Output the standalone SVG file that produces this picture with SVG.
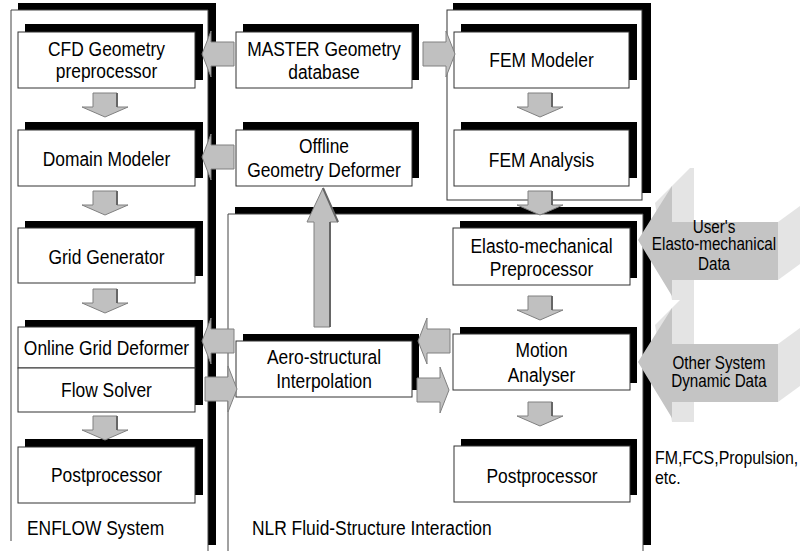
<svg xmlns="http://www.w3.org/2000/svg" xmlns:xlink="http://www.w3.org/1999/xlink" width="800" height="551" viewBox="0 0 800 551">
<style>
.sh{fill:#000}
.box{fill:#fff;stroke:#333;stroke-width:1}
.fr{fill:none;stroke:#444;stroke-width:1}
.bg{fill:#fff}
.t{font-family:"Liberation Sans",Arial,sans-serif;font-size:20px;fill:#000;text-anchor:middle}
.tl{font-family:"Liberation Sans",Arial,sans-serif;font-size:20px;fill:#000}
.td{font-family:"Liberation Sans",Arial,sans-serif;font-size:17.5px;fill:#000;text-anchor:middle}
.arr{fill:#c0c0c0;stroke:#808080;stroke-width:1}
.lt{fill:#e4e4e4}
.fc{fill:#c4c4c4}
</style>
<defs>
<g id="dn"><path class="arr" d="M-12,0 H12 V14 H23 L0,24 L-23,14 H-12 Z"/><path d="M12,0 V14" stroke="#666" stroke-width="2"/></g>
<g id="lf"><path class="arr" d="M0,0 L9,-23 V-12 H32 V12 H9 V23 Z"/></g>
<g id="rt"><path class="arr" d="M0,0 L-9,-23 V-12 H-32 V12 H-9 V23 Z"/></g>
<g id="big3d">
<polygon class="lt" points="655,203 690,168 694,168 694,300 672,300"/>
<polygon class="lt" points="778,222 800,206 800,264 778,280"/>
<polygon class="fc" points="638,240 672,186 672,222 778,222 778,280 672,280 672,296"/>
</g>
</defs>

<!-- containers -->
<g id="enflow">
<rect class="sh" x="18" y="3" width="198" height="542"/>
<rect class="bg" x="11" y="10" width="197" height="541"/>
<path class="fr" d="M11,541 V10 H208 V551"/>
<text class="tl" transform="translate(27,535) scale(0.87,1)">ENFLOW System</text>
</g>
<g id="fem">
<rect class="sh" x="453" y="3" width="198" height="190"/>
<rect class="box" x="447" y="10" width="195" height="190"/>
</g>
<g id="nlr">
<rect class="sh" x="235" y="207" width="416" height="338"/>
<rect class="bg" x="228" y="214" width="415" height="337"/>
<path class="fr" d="M228,551 V214 H643 V551"/>
<text class="tl" transform="translate(252,535) scale(0.87,1)">NLR Fluid-Structure Interaction</text>
</g>

<!-- ENFLOW nodes -->
<g id="n-cfd"><rect class="sh" x="25" y="24" width="178" height="56"/><rect class="box" x="18" y="32" width="177" height="56"/>
<text class="t" transform="translate(106.5,56) scale(0.87,1)">CFD Geometry</text><text class="t" transform="translate(106.5,78) scale(0.87,1)">preprocessor</text></g>
<g id="n-domain"><rect class="sh" x="25" y="122" width="178" height="56"/><rect class="box" x="18" y="130" width="177" height="56"/>
<text class="t" transform="translate(106.5,166) scale(0.87,1)">Domain Modeler</text></g>
<g id="n-grid"><rect class="sh" x="25" y="221" width="178" height="55"/><rect class="box" x="18" y="228" width="177" height="55"/>
<text class="t" transform="translate(106.5,264) scale(0.87,1)">Grid Generator</text></g>
<g id="n-online"><rect class="sh" x="25" y="320" width="178" height="85"/><rect class="box" x="18" y="327" width="177" height="41"/>
<text class="t" transform="translate(106.5,355) scale(0.87,1)">Online Grid Deformer</text></g>
<g id="n-flow"><rect class="box" x="18" y="368" width="177" height="44"/>
<text class="t" transform="translate(106.5,397) scale(0.87,1)">Flow Solver</text></g>
<g id="n-post1"><rect class="sh" x="25" y="439" width="178" height="56"/><rect class="box" x="18" y="447" width="177" height="56"/>
<text class="t" transform="translate(106.5,482) scale(0.87,1)">Postprocessor</text></g>

<!-- middle nodes -->
<g id="n-master"><rect class="sh" x="243" y="24" width="176" height="56"/><rect class="box" x="236" y="32" width="176" height="56"/>
<text class="t" transform="translate(324,56) scale(0.87,1)">MASTER Geometry</text><text class="t" transform="translate(324,79) scale(0.87,1)">database</text></g>
<g id="n-offline"><rect class="sh" x="243" y="122" width="176" height="56"/><rect class="box" x="236" y="130" width="176" height="56"/>
<text class="t" transform="translate(324,153) scale(0.87,1)">Offline</text><text class="t" transform="translate(324,177) scale(0.87,1)">Geometry Deformer</text></g>
<g id="n-aero"><rect class="sh" x="243" y="334" width="176" height="56"/><rect class="box" x="236" y="341" width="176" height="56"/>
<text class="t" transform="translate(324,364) scale(0.87,1)">Aero-structural</text><text class="t" transform="translate(324,388) scale(0.87,1)">Interpolation</text></g>

<!-- right nodes -->
<g id="n-femmod"><rect class="sh" x="461" y="24" width="176" height="56"/><rect class="box" x="454" y="32" width="175" height="56"/>
<text class="t" transform="translate(541.5,67) scale(0.87,1)">FEM Modeler</text></g>
<g id="n-femana"><rect class="sh" x="461" y="122" width="176" height="56"/><rect class="box" x="454" y="130" width="175" height="56"/>
<text class="t" transform="translate(541.5,167) scale(0.87,1)">FEM Analysis</text></g>
<g id="n-elasto"><rect class="sh" x="460" y="221" width="177" height="57"/><rect class="box" x="453" y="228" width="177" height="57"/>
<text class="t" transform="translate(541.5,253) scale(0.87,1)">Elasto-mechanical</text><text class="t" transform="translate(541.5,276) scale(0.87,1)">Preprocessor</text></g>
<g id="n-motion"><rect class="sh" x="460" y="327" width="177" height="56"/><rect class="box" x="453" y="334" width="177" height="56"/>
<text class="t" transform="translate(541.5,357) scale(0.87,1)">Motion</text><text class="t" transform="translate(541.5,382) scale(0.87,1)">Analyser</text></g>
<g id="n-post2"><rect class="sh" x="461" y="439" width="176" height="56"/><rect class="box" x="454" y="446" width="176" height="56"/>
<text class="t" transform="translate(542,483) scale(0.87,1)">Postprocessor</text></g>

<!-- connectors -->
<g id="connectors">
<use xlink:href="#dn" x="105" y="93"/>
<use xlink:href="#dn" x="105" y="191"/>
<use xlink:href="#dn" x="105" y="289"/>
<use xlink:href="#dn" x="105" y="416"/>
<use xlink:href="#dn" x="540" y="93"/>
<use xlink:href="#dn" x="540" y="191"/>
<use xlink:href="#dn" x="540" y="296"/>
<use xlink:href="#dn" x="540" y="402"/>
<use xlink:href="#lf" x="202" y="54"/>
<use xlink:href="#rt" x="455" y="54"/>
<use xlink:href="#lf" x="202" y="157"/>
<use xlink:href="#lf" x="202" y="341"/>
<use xlink:href="#rt" x="237" y="389"/>
<use xlink:href="#lf" x="418" y="341"/>
<use xlink:href="#rt" x="449" y="390"/>
<g id="up-arrow">
<path class="arr" d="M323,188 L338,222 H330 V327 H314 V222 H307 Z"/>
<path d="M330,222 V327 M323,188 L338,222" stroke="#666" stroke-width="2" fill="none"/>
</g>
<g id="data-user"><use xlink:href="#big3d"/>
<text class="td" transform="translate(714,233) scale(0.87,1)">User's</text><text class="td" transform="translate(714,250) scale(0.87,1)">Elasto-mechanical</text><text class="td" transform="translate(714,270) scale(0.87,1)">Data</text></g>
<g id="data-other"><use xlink:href="#big3d" y="122"/>
<text class="td" transform="translate(719,369) scale(0.87,1)">Other System</text><text class="td" transform="translate(719,387) scale(0.87,1)">Dynamic Data</text></g>
</g>
<text class="tl" transform="translate(655,464) scale(0.87,1)" style="font-size:18.3px">FM,FCS,Propulsion,</text>
<text class="tl" transform="translate(655,484) scale(0.87,1)" style="font-size:18.3px">etc.</text>
</svg>
